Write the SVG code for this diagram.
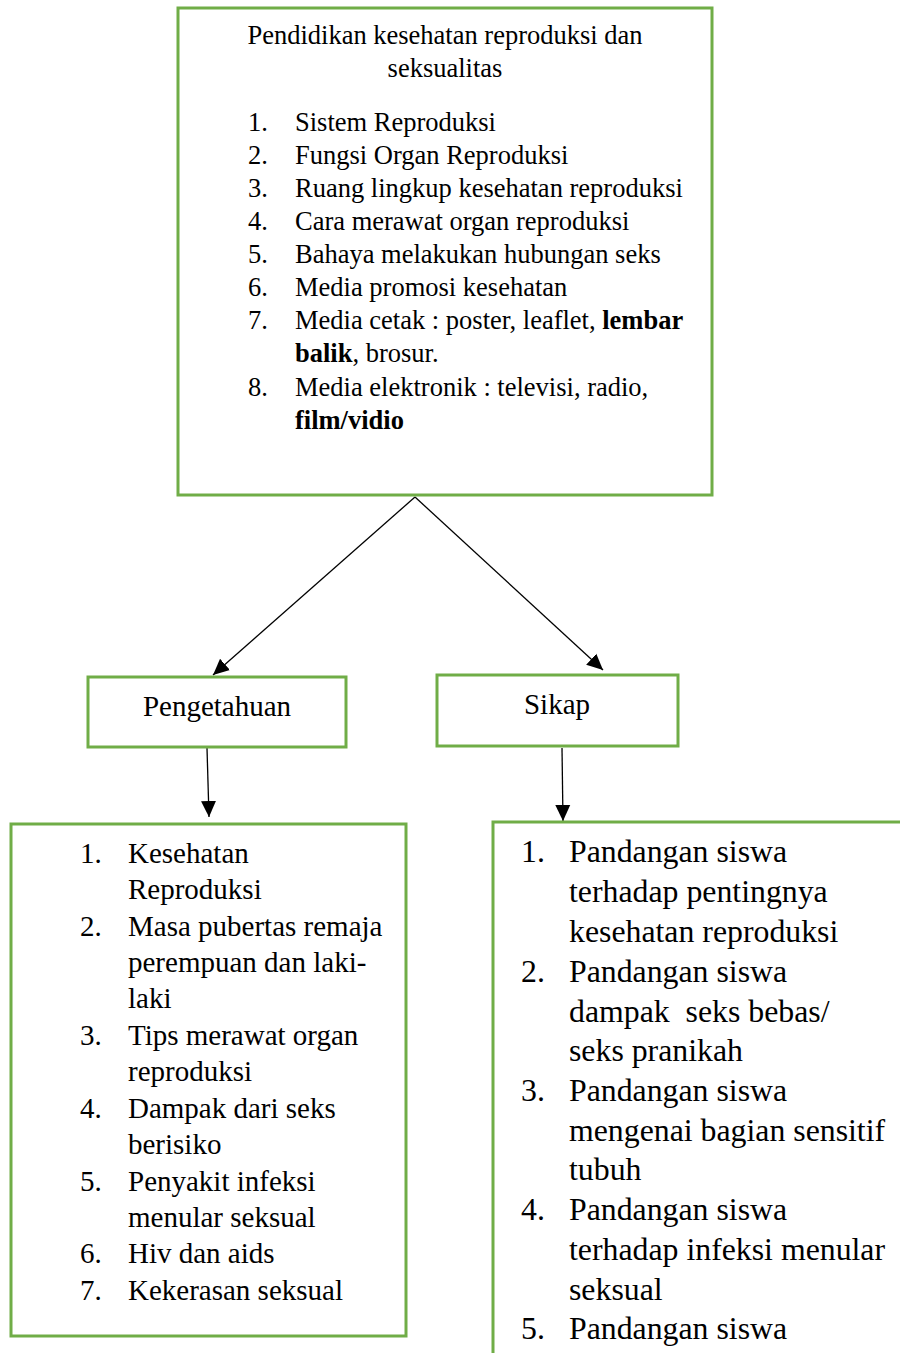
<svg xmlns="http://www.w3.org/2000/svg" width="900" height="1353" viewBox="0 0 900 1353">
<style>
.box{fill:#fff;stroke:#70AD47;stroke-width:3}
.t{font-family:"Liberation Serif","Times New Roman",serif;fill:#000}
.top{font-size:26.5px}
.mid{font-size:29px}
.lb{font-size:29px}
.rb{font-size:31.8px}
.b{font-weight:bold}
.conn{stroke:#000;stroke-width:1.3;fill:none}
</style>
<defs>
<marker id="ah" viewBox="0 0 16 16" refX="16" refY="8" markerWidth="16" markerHeight="16" markerUnits="userSpaceOnUse" orient="auto">
<path d="M0,0.5 L16,8 L0,15.5 Z" fill="#000"/>
</marker>
</defs>
<rect width="900" height="1353" fill="#fff"/>
<g id="connectors">
<line class="conn" x1="415" y1="497" x2="213" y2="675" marker-end="url(#ah)"/>
<line class="conn" x1="415" y1="497" x2="603" y2="670" marker-end="url(#ah)"/>
<line class="conn" x1="207" y1="748" x2="209" y2="817" marker-end="url(#ah)"/>
<line class="conn" x1="562" y1="748" x2="563" y2="821" marker-end="url(#ah)"/>
</g>
<g id="node-main">
<rect class="box" x="178" y="8" width="534" height="487"/>
<text class="t top" x="445" y="44" text-anchor="middle">Pendidikan kesehatan reproduksi dan</text>
<text class="t top" x="445" y="77" text-anchor="middle">seksualitas</text>
<g class="t top">
<text x="248" y="131">1.</text><text x="295" y="131">Sistem Reproduksi</text>
<text x="248" y="164">2.</text><text x="295" y="164">Fungsi Organ Reproduksi</text>
<text x="248" y="197">3.</text><text x="295" y="197">Ruang lingkup kesehatan reproduksi</text>
<text x="248" y="230">4.</text><text x="295" y="230">Cara merawat organ reproduksi</text>
<text x="248" y="263">5.</text><text x="295" y="263">Bahaya melakukan hubungan seks</text>
<text x="248" y="296">6.</text><text x="295" y="296">Media promosi kesehatan</text>
<text x="248" y="329">7.</text><text x="295" y="329">Media cetak : poster, leaflet, <tspan class="b">lembar</tspan></text>
<text x="295" y="362"><tspan class="b">balik</tspan>, brosur.</text>
<text x="248" y="396">8.</text><text x="295" y="396">Media elektronik : televisi, radio,</text>
<text x="295" y="429" class="b">film/vidio</text>
</g>
</g>
<g id="node-pengetahuan">
<rect class="box" x="88" y="677" width="258" height="70"/>
<text class="t mid" x="217" y="716" text-anchor="middle">Pengetahuan</text>
</g>
<g id="node-sikap">
<rect class="box" x="437" y="675" width="241" height="71"/>
<text class="t mid" x="557" y="714" text-anchor="middle">Sikap</text>
</g>
<g id="node-pengetahuan-list">
<rect class="box" x="11" y="824" width="395" height="512"/>
<g class="t lb">
<text x="80" y="863">1.</text><text x="128" y="863">Kesehatan</text>
<text x="128" y="899">Reproduksi</text>
<text x="80" y="936">2.</text><text x="128" y="936">Masa pubertas remaja</text>
<text x="128" y="972">perempuan dan laki-</text>
<text x="128" y="1008">laki</text>
<text x="80" y="1045">3.</text><text x="128" y="1045">Tips merawat organ</text>
<text x="128" y="1081">reproduksi</text>
<text x="80" y="1118">4.</text><text x="128" y="1118">Dampak dari seks</text>
<text x="128" y="1154">berisiko</text>
<text x="80" y="1191">5.</text><text x="128" y="1191">Penyakit infeksi</text>
<text x="128" y="1227">menular seksual</text>
<text x="80" y="1263">6.</text><text x="128" y="1263">Hiv dan aids</text>
<text x="80" y="1300">7.</text><text x="128" y="1300">Kekerasan seksual</text>
</g>
</g>
<g id="node-sikap-list">
<rect class="box" x="493" y="822" width="420" height="560"/>
<g class="t rb">
<text x="521" y="862">1.</text><text x="569" y="862">Pandangan siswa</text>
<text x="569" y="902">terhadap pentingnya</text>
<text x="569" y="942">kesehatan reproduksi</text>
<text x="521" y="982">2.</text><text x="569" y="982">Pandangan siswa</text>
<text x="569" y="1022" xml:space="preserve">dampak  seks bebas/</text>
<text x="569" y="1061">seks pranikah</text>
<text x="521" y="1101">3.</text><text x="569" y="1101">Pandangan siswa</text>
<text x="569" y="1141">mengenai bagian sensitif</text>
<text x="569" y="1180">tubuh</text>
<text x="521" y="1220">4.</text><text x="569" y="1220">Pandangan siswa</text>
<text x="569" y="1260">terhadap infeksi menular</text>
<text x="569" y="1300">seksual</text>
<text x="521" y="1339">5.</text><text x="569" y="1339">Pandangan siswa</text>
</g>
</g>
</svg>
